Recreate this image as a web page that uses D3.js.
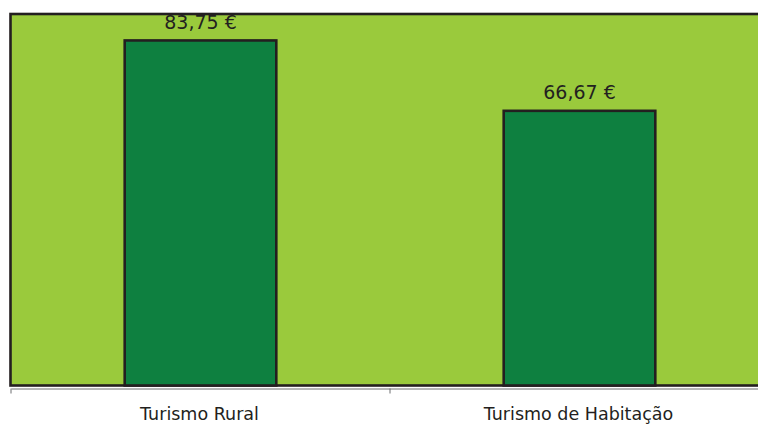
<!DOCTYPE html>
<html>
<head>
<meta charset="utf-8">
<script src="https://cdn.jsdelivr.net/npm/d3@7"></script>
<style>
  html, body { margin: 0; padding: 0; background: #ffffff; }
  svg { display: block; }
</style>
</head>
<body>
<svg id="chart" width="758" height="425"></svg>
<script>
const categories = ["Turismo Rural", "Turismo de Habitação"];
const values = [83.75, 66.67];
const valueLabels = ["83,75 €", "66,67 €"];
const yDomain = [0, 90];

const svg = d3.select("#chart");
const mLeft = 11, mRight = 769, mTop = 14.7, mBottom = 385.5;

const x = d3.scaleBand().domain(categories).range([mLeft, mRight]).paddingInner(0).paddingOuter(0);
const y = d3.scaleLinear().domain(yDomain).range([mBottom, mTop]);

// plot area
svg.append("rect")
  .attr("x", 10.5).attr("y", 14)
  .attr("width", 780).attr("height", mBottom - 14)
  .attr("fill", "#9aca3c")
  .attr("stroke", "#231f20")
  .attr("stroke-width", 2.6);

const bw = x.bandwidth() * 0.4;

svg.selectAll("rect.bar")
  .data(values)
  .enter().append("rect")
  .attr("class", "bar")
  .attr("x", (d, i) => x(categories[i]) + x.bandwidth() / 2 - bw / 2)
  .attr("y", d => y(d))
  .attr("width", bw)
  .attr("height", d => y(0) - y(d))
  .attr("fill", "#0e8040")
  .attr("stroke", "#231f20")
  .attr("stroke-width", 2.6);

svg.selectAll("text.val")
  .data(values)
  .enter().append("text")
  .attr("class", "val")
  .attr("x", (d, i) => x(categories[i]) + x.bandwidth() / 2)
  .attr("y", d => y(d) - 11.5)
  .attr("text-anchor", "middle")
  .attr("font-family", "DejaVu Sans, sans-serif")
  .attr("font-size", 19)
  .attr("fill", "#231f20")
  .text((d, i) => valueLabels[i]);

// category axis
const axis = d3.axisBottom(x).tickSize(5).tickSizeOuter(0).tickFormat("");
const ag = svg.append("g").attr("transform", "translate(0,388.5)").call(axis);
ag.select(".domain").attr("stroke", "#6d6e70").attr("stroke-width", 1);
// boundary ticks at band edges instead of centers
ag.selectAll(".tick").remove();
const edges = categories.map(c => x(c));
ag.selectAll("line.edge").data(edges).enter().append("line")
  .attr("x1", d => d).attr("x2", d => d)
  .attr("y1", 0).attr("y2", 5)
  .attr("stroke", "#6d6e70").attr("stroke-width", 1);

svg.selectAll("text.cat")
  .data(categories)
  .enter().append("text")
  .attr("class", "cat")
  .attr("x", d => x(d) + x.bandwidth() / 2 - 1)
  .attr("y", 420)
  .attr("text-anchor", "middle")
  .attr("font-family", "DejaVu Sans, sans-serif")
  .attr("font-size", 17.5)
  .attr("fill", "#231f20")
  .text(d => d);
</script>
</body>
</html>
